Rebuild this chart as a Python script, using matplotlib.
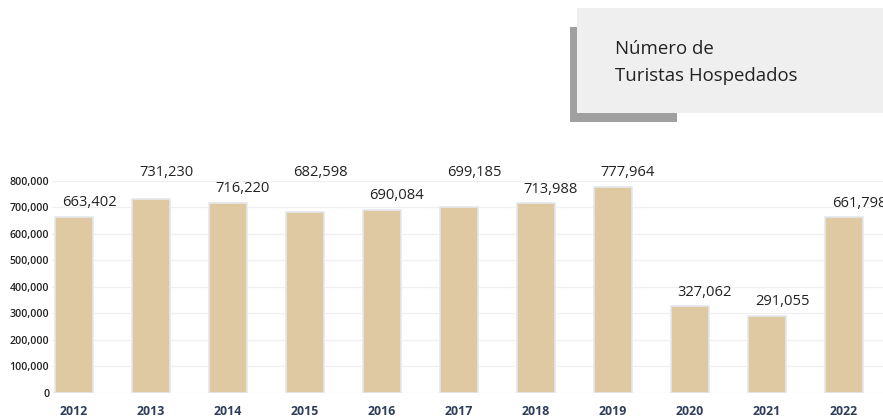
import matplotlib
matplotlib.use("Agg")
import matplotlib.pyplot as plt
from matplotlib.patches import Rectangle
from matplotlib.ticker import FuncFormatter

years = ["2012", "2013", "2014", "2015", "2016", "2017", "2018", "2019", "2020", "2021", "2022"]
tourists = [663402, 731230, 716220, 682598, 690084, 699185, 713988, 777964, 327062, 291055, 661798]
y_ticks = [0, 100000, 200000, 300000, 400000, 500000, 600000, 700000, 800000]
title_lines = ["Número de", "Turistas Hospedados"]

# labels lifted to a shared row so neighbours don't collide
raised = {"2013", "2015", "2017"}

W, H = 883, 417
fig = plt.figure(figsize=(W / 100, H / 100), dpi=100)
fig.patch.set_facecolor("white")

# plot area in pixel coordinates
ax_left, ax_right = 52, 883
ax_bottom, ax_top = 417 - 392.7, 417 - 180.7
ax = fig.add_axes([ax_left / W, ax_bottom / H, (ax_right - ax_left) / W, (ax_top - ax_bottom) / H])

x = list(range(len(years)))
px_per_unit = 77.0
first_center = 74.0
ax.set_xlim((ax_left - first_center) / px_per_unit, (ax_right - first_center) / px_per_unit)
ax.set_ylim(0, 800000)

ax.bar(x, tourists, width=0.5, color="#dfc9a3", edgecolor="#e4e8ee", linewidth=1.2, zorder=2)

ax.set_yticks(y_ticks)
ax.yaxis.set_major_formatter(FuncFormatter(lambda v, p: f"{int(v):,}"))
ax.grid(axis="y", color="#f0f0f0", linewidth=1.0, zorder=0)
ax.set_axisbelow(True)
for s in ax.spines.values():
    s.set_visible(False)
ax.tick_params(axis="y", length=0, pad=2, labelsize=7.7, labelcolor="#222222")
ax.tick_params(axis="x", length=0, pad=9, labelsize=8.9, labelcolor="#2e3d5a")
for lbl in ax.get_yticklabels():
    lbl.set_fontfamily("Open Sans")
    lbl.set_fontweight("semibold")
ax.set_xticks(x)
ax.set_xticklabels(years, fontfamily="Open Sans", fontweight="bold")

for xi, yr, v in zip(x, years, tourists):
    if yr in raised:
        anchor, dy = (xi, 800000), 8
    else:
        anchor, dy = (xi, v), 14
    ax.annotate(f"{v:,}", xy=anchor, xytext=(15, dy), textcoords="offset pixels",
                ha="center", va="center", fontsize=10.6, fontfamily="Open Sans",
                color="#222222", annotation_clip=False)

# title card with offset shadow
def px_rect(x0, y0, x1, y1, color):
    return Rectangle((x0 / W, 1 - y1 / H), (x1 - x0) / W, (y1 - y0) / H,
                     transform=fig.transFigure, facecolor=color, edgecolor="none")

fig.patches.append(px_rect(570, 27, 677, 122, "#a0a0a0"))
fig.patches.append(px_rect(577, 8, 883, 113, "#efefef"))
fig.text(615 / W, 1 - 49 / H, title_lines[0], ha="left", va="center",
         fontsize=13.4, fontfamily="Open Sans", color="#222222")
fig.text(615 / W, 1 - 76 / H, title_lines[1], ha="left", va="center",
         fontsize=13.4, fontfamily="Open Sans", color="#222222")

fig.savefig("out.png", dpi=100, facecolor="white")
